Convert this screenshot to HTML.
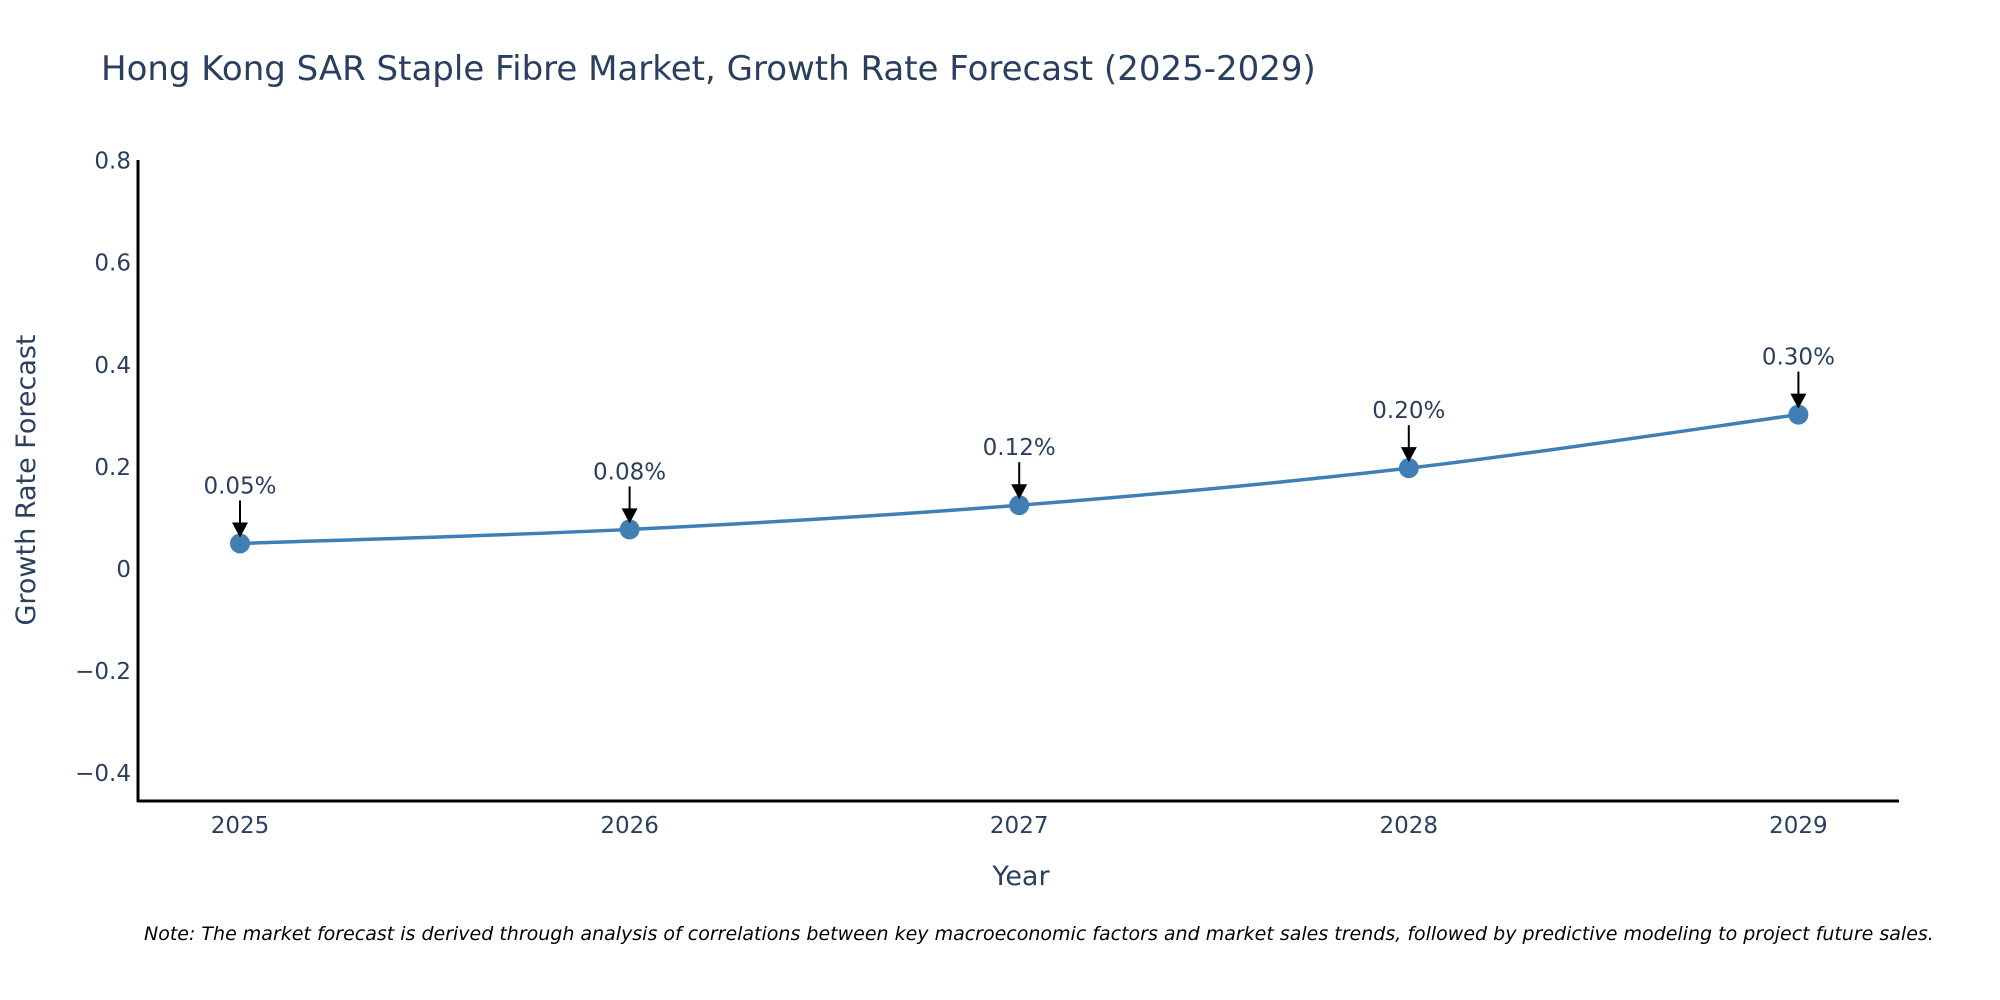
<!DOCTYPE html>
<html><head><meta charset="utf-8"><style>
body{margin:0;background:#fff;overflow:hidden;}
svg{display:block;font-family:"DejaVu Sans","Liberation Sans",sans-serif;}
</style></head><body>
<svg id="chart" width="2000" height="1000" viewBox="0 0 2000 1000">
<text x="101" y="80" font-size="34" fill="#2a3f5f">Hong Kong SAR Staple Fibre Market, Growth Rate Forecast (2025-2029)</text>
<g id="yticks"></g>
<g id="xticks"></g>
<line x1="138" y1="160" x2="138" y2="802" stroke="#000" stroke-width="3"/>
<line x1="137" y1="801" x2="1899" y2="801" stroke="#000" stroke-width="3"/>
<path id="line" fill="none" stroke="#3f7fb3" stroke-width="3.5"/>
<g id="points"></g>
<g id="annots"></g>
<text x="1021" y="885" font-size="27" fill="#2a3f5f" text-anchor="middle">Year</text>
<text transform="translate(35,480) rotate(-90)" font-size="27" fill="#2a3f5f" text-anchor="middle">Growth Rate Forecast</text>
<text x="144" y="940" font-size="19" font-style="italic" fill="#000">Note: The market forecast is derived through analysis of correlations between key macroeconomic factors and market sales trends, followed by predictive modeling to project future sales.</text>
</svg>
<script>
const years = [2025, 2026, 2027, 2028, 2029];
const values = [0.05, 0.0775, 0.125, 0.1975, 0.3025];
const labels = ["0.05%", "0.08%", "0.12%", "0.20%", "0.30%"];
const yTickValues = [0.8, 0.6, 0.4, 0.2, 0, -0.2, -0.4];
const yTickLabels = ["0.8", "0.6", "0.4", "0.2", "0", "\u22120.2", "\u22120.4"];

const NS = "http://www.w3.org/2000/svg";
function xS(v){ return 240 + (v - 2025) * 389.6; }
function yS(v){ return 569 - v * 510.5; }
function mk(tag, attrs, parent, text){
  const e = document.createElementNS(NS, tag);
  for (const k in attrs) e.setAttribute(k, attrs[k]);
  if (text !== undefined) e.textContent = text;
  parent.appendChild(e);
  return e;
}
const yt = document.getElementById('yticks');
yTickValues.forEach((v, i) => {
  const t = mk('text', {x: 131, y: yS(v) + 8, 'font-size': 23, fill: '#2a3f5f', 'text-anchor': 'end'}, yt, yTickLabels[i]);
  
  
});
const xt = document.getElementById('xticks');
years.forEach(y => {
  const t = mk('text', {x: xS(y), y: 833, 'font-size': 23, fill: '#2a3f5f', 'text-anchor': 'middle'}, xt, String(y));
  
  
});
const P = years.map((y, i) => [xS(y), yS(values[i])]);
let d = `M${P[0][0]},${P[0][1]}`;
for (let i = 0; i < P.length - 1; i++) {
  const p0 = P[Math.max(0, i - 1)], p1 = P[i], p2 = P[i + 1], p3 = P[Math.min(P.length - 1, i + 2)];
  const c1 = [p1[0] + (p2[0] - p0[0]) / 6, p1[1] + (p2[1] - p0[1]) / 6];
  const c2 = [p2[0] - (p3[0] - p1[0]) / 6, p2[1] - (p3[1] - p1[1]) / 6];
  d += ` C${c1[0]},${c1[1]} ${c2[0]},${c2[1]} ${p2[0]},${p2[1]}`;
}
document.getElementById('line').setAttribute('d', d);
const pts = document.getElementById('points');
const an = document.getElementById('annots');
P.forEach((p, i) => {
  const c = mk('circle', {cx: p[0], cy: p[1], r: 10, fill: '#3f7fb3'}, pts);
  
  
  const l = mk('line', {x1: p[0], y1: p[1] - 43, x2: p[0], y2: p[1] - 20, stroke: '#000', 'stroke-width': 2}, an);
  
  
  const h = mk('path', {d: `M${p[0]-8},${p[1]-21} L${p[0]+8},${p[1]-21} L${p[0]},${p[1]-6} Z`, fill: '#000'}, an);
  
  
  const t = mk('text', {x: p[0], y: p[1] - 50, 'font-size': 23, fill: '#2a3f5f', 'text-anchor': 'middle'}, an, labels[i]);
  
  
});
</script>
</body></html>
